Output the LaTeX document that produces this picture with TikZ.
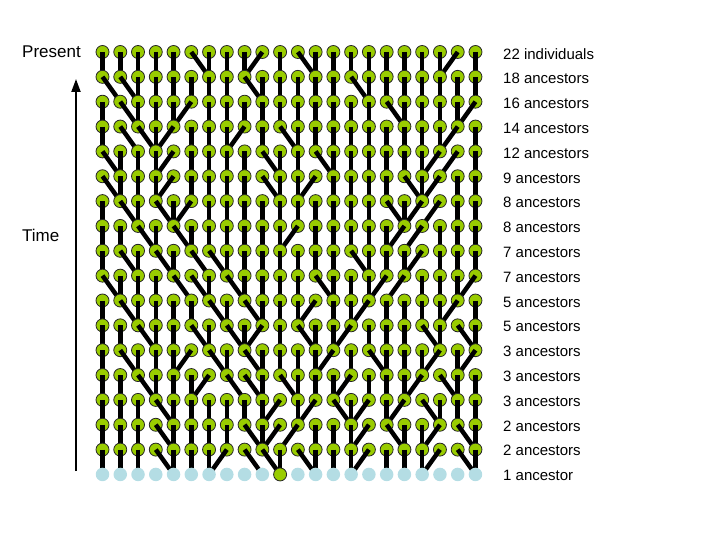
\documentclass[tikz,border=0pt]{standalone}
\usepackage{fontspec}
\setmainfont{Liberation Sans}
\usetikzlibrary{arrows.meta}
\definecolor{dotgreen}{HTML}{99CC00}
\definecolor{dotblue}{HTML}{B4DDE4}
\newcommand\drawrow[2]{%
  \foreach \c in {0,...,21} {\node[dot] (n-#1-\c) at (p-#1-\c) {};}
  \foreach \d [count=\cc from 0] in {#2} {
    \pgfmathtruncatemacro\pp{\cc+\d}
    \pgfmathtruncatemacro\rr{#1+1}
    \draw[stick] (p-#1-\cc) -- (p-\rr-\pp);
  }
}
\begin{document}
\begin{tikzpicture}[x=1bp,y=-1bp,
  dot/.style={circle,draw=black!85,line width=0.8bp,fill=dotgreen,minimum size=13bp,inner sep=0},
  root/.style={circle,fill=dotblue,minimum size=13.5bp,inner sep=0},
  stick/.style={line width=4.5bp,black},
  lab/.style={anchor=west,font=\fontsize{15bp}{18bp}\selectfont,inner sep=0}]
\useasboundingbox (0,0) rectangle (720,540);
\foreach \r in {0,...,17}{
  \foreach \c in {0,...,21}{
    \coordinate (p-\r-\c) at ({102.5+17.76*\c},{52+24.85*\r});
  }
}
\drawrow{0}{0,0,0,0,0,1,0,0,0,-1,0,1,0,0,0,0,0,0,0,0,-1,0}
\drawrow{1}{1,1,0,0,0,0,0,0,1,0,0,0,0,0,1,0,0,0,0,0,0,0}
\drawrow{2}{0,1,0,0,0,-1,0,0,0,0,0,0,0,0,0,0,1,0,0,0,0,-1}
\drawrow{3}{0,1,1,0,-1,0,0,0,-1,0,1,0,0,0,0,0,0,0,0,0,-1,0}
\drawrow{4}{1,0,0,0,-1,0,0,0,0,1,0,0,1,0,0,0,0,0,0,-1,-1,0}
\drawrow{5}{1,0,0,0,-1,0,0,0,0,1,0,0,-1,0,0,0,0,1,0,-1,0,0}
\drawrow{6}{0,1,0,1,0,-1,0,0,0,0,0,0,0,0,0,0,1,0,-1,-1,0,0}
\drawrow{7}{0,0,1,0,1,0,0,0,0,0,0,-1,0,0,0,0,0,-1,-1,0,0,0}
\drawrow{8}{0,1,0,1,0,1,1,0,0,0,0,0,0,0,1,0,0,0,-1,0,0,0}
\drawrow{9}{1,0,0,0,1,1,0,1,0,0,0,0,1,0,0,0,-1,-1,0,0,0,-1}
\drawrow{10}{0,1,0,0,0,0,1,0,1,0,0,0,-1,0,0,-1,0,0,0,0,-1,0}
\drawrow{11}{0,0,1,0,0,1,0,1,0,-1,0,1,0,0,-1,0,0,0,1,0,1,0}
\drawrow{12}{0,1,0,0,0,-1,1,0,1,0,0,0,0,-1,0,1,0,0,0,-1,0,-1}
\drawrow{13}{0,0,1,0,0,0,-1,1,1,0,1,0,0,0,-1,0,0,0,-1,1,0,0}
\drawrow{14}{0,0,0,1,0,0,0,0,0,0,-1,0,-1,1,0,-1,0,-1,1,0,0,0}
\drawrow{15}{0,0,0,1,0,0,0,0,1,0,-1,-1,0,0,0,-1,1,0,0,-1,1,0}
\drawrow{16}{0,0,0,1,0,0,0,-1,1,1,0,1,0,0,0,-1,0,0,0,-1,1,0}
\foreach \c in {0,...,21}{
  \ifnum\c=10 \node[dot] (n-17-\c) at (p-17-\c) {};
  \else \node[root] (n-17-\c) at (p-17-\c) {};\fi
}
\node[lab,font=\fontsize{17bp}{20bp}\selectfont] (present) at (22,52) {Present};
\node[lab,font=\fontsize{17bp}{20bp}\selectfont] (time) at (22,235) {Time};
\coordinate (tb) at (76,471);
\coordinate (tt) at (76,79);
\draw[line width=2bp,-{Triangle[width=9bp,length=13bp]}] (tb) -- (tt);
\foreach \t [count=\i from 0] in {22 individuals,18 ancestors,16 ancestors,14 ancestors,12 ancestors,9 ancestors,8 ancestors,8 ancestors,7 ancestors,7 ancestors,5 ancestors,5 ancestors,3 ancestors,3 ancestors,3 ancestors,2 ancestors,2 ancestors,1 ancestor}{
  \node[lab] (l\i) at (503,{54+24.8*\i}) {\t};
}
\end{tikzpicture}
\end{document}
